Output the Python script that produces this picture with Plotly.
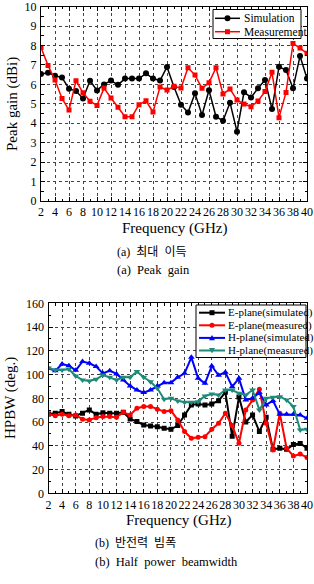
import plotly.graph_objects as go

W, H = 314, 584
freq = list(range(2, 41))

# Peak gain (dBi)
gain_sim = [6.53, 6.6, 6.45, 6.35, 5.78, 5.66, 5.28, 6.19, 5.69, 6.0, 6.2, 5.98, 6.3, 6.3, 6.3,
            6.57, 6.3, 6.2, 6.9, 5.87, 4.96, 4.55, 5.54, 4.43, 5.7, 4.34, 4.13, 5.06, 3.57, 5.6,
            5.33, 5.8, 6.23, 4.73, 6.91, 6.74, 5.8, 7.46, 6.3]
gain_meas = [7.9, 6.98, 6.23, 5.28, 4.68, 6.19, 5.57, 5.14, 4.92, 5.81, 5.3, 4.82, 4.34, 4.34, 4.96,
             5.16, 4.58, 5.87, 5.71, 5.9, 5.81, 6.86, 6.48, 5.8, 6.09, 6.86, 5.51, 5.76, 5.2, 4.99,
             4.85, 5.15, 5.63, 6.62, 4.29, 5.59, 8.11, 7.87, 7.6]

# HPBW (deg.)
e_sim = [66.8, 67.4, 68.8, 66.5, 65.1, 67.4, 70.2, 66.5, 67.9, 67.4, 67.4, 68.2, 62.6, 60.4, 57.5,
         56.7, 56.1, 54.7, 53.9, 57.0, 66.0, 74.4, 75.2, 74.4, 75.2, 78.0, 85.0, 48.0, 81.0, 60.0,
         66.0, 52.0, 64.0, 37.0, 38.0, 37.0, 41.0, 42.0, 38.0]
e_meas = [66.5, 65.4, 66.5, 65.4, 66.0, 62.3, 61.8, 63.7, 64.6, 64.6, 64.0, 68.2, 66.0, 71.6, 73.0,
          73.0, 70.7, 68.8, 69.6, 61.8, 52.0, 46.3, 47.2, 47.7, 53.9, 59.0, 67.4, 57.0, 42.1, 70.2,
          78.6, 87.6, 59.0, 36.5, 67.4, 37.9, 31.4, 33.1, 30.2]
h_sim = [105.0, 103.3, 108.9, 107.5, 103.6, 110.9, 109.5, 106.7, 101.0, 103.3, 100.5, 95.4, 90.4, 87.0, 84.8,
         87.0, 90.4, 93.2, 93.2, 97.7, 101.0, 114.5, 96.8, 92.6, 107.2, 99.4, 101.9, 89.8, 96.8, 78.6,
         80.0, 84.8, 74.4, 78.0, 66.5, 66.5, 66.5, 66.0, 63.2]
h_meas = [105.5, 103.9, 103.9, 104.4, 98.8, 95.4, 94.6, 96.0, 99.6, 97.7, 95.4, 97.7, 97.7, 102.5, 97.7,
          94.0, 88.4, 79.2, 80.0, 77.8, 76.6, 76.6, 77.2, 82.0, 83.6, 82.8, 87.0, 87.0, 84.2, 82.8,
          87.0, 70.2, 80.0, 80.8, 81.4, 78.6, 73.0, 53.3, 53.9]

x_ticks = list(range(2, 41, 2))

SERIF = "Liberation Serif, Times New Roman, serif"
KR = "Noto Sans CJK KR"

series1 = [
    ("Simulation", gain_sim, "black", "circle", 6, 1.5),
    ("Measurement", gain_meas, "#ff0000", "square", 5, 1.5),
]
series2 = [
    ("E-plane(simulated)", e_sim, "black", "square", 5, 2),
    ("E-plane(measured)", e_meas, "#ff0000", "circle", 5, 2),
    ("H-plane(simulated)", h_sim, "#0000ff", "triangle-up", 6, 2),
    ("H-plane(measured)", h_meas, "#1f8a78", "triangle-down", 6, 2),
]

fig = go.Figure()
for name, ys, col, sym, sz, lw in series1:
    fig.add_trace(go.Scatter(x=freq, y=ys, name=name, mode="lines+markers",
                             line=dict(color=col, width=lw),
                             marker=dict(symbol=sym, size=sz, color=col),
                             xaxis="x", yaxis="y", showlegend=False))
for name, ys, col, sym, sz, lw in series2:
    fig.add_trace(go.Scatter(x=freq, y=ys, name=name, mode="lines+markers",
                             line=dict(color=col, width=lw),
                             marker=dict(symbol=sym, size=sz, color=col),
                             xaxis="x2", yaxis="y2", showlegend=False))


def px_x(p):
    return p / W


def px_y(p):
    return 1 - p / H


axis_common = dict(
    showline=True, linecolor="black", linewidth=1, mirror="allticks",
    ticks="inside", ticklen=4, tickcolor="black",
    showgrid=True, gridcolor="#444444", griddash="dot", gridwidth=1,
    zeroline=False, tickfont=dict(family=SERIF, size=12, color="black"),
    ticklabeloverflow="allow",
)
minor_x = dict(dtick=1, ticks="inside", ticklen=2.5, tickcolor="black", showgrid=False)

fig.update_layout(
    width=W, height=H,
    margin=dict(l=0, r=0, t=0, b=0, autoexpand=False),
    paper_bgcolor="white", plot_bgcolor="white",
    showlegend=False,
    xaxis=dict(domain=[px_x(41), px_x(307)], range=[2, 40], tickvals=x_ticks, anchor="y",
               tickangle=0, minor=minor_x, ticklabelstandoff=0, **axis_common),
    yaxis=dict(domain=[px_y(201), px_y(6.7)], range=[0, 10], dtick=1, anchor="x",
               minor=dict(dtick=0.5, ticks="inside", ticklen=2.5, tickcolor="black", showgrid=False),
               ticklabelstandoff=1, **axis_common),
    xaxis2=dict(domain=[px_x(48.5), px_x(307)], range=[2, 40], tickvals=x_ticks, anchor="y2",
                tickangle=0, minor=minor_x, ticklabelstandoff=0, **axis_common),
    yaxis2=dict(domain=[px_y(493.3), px_y(303.3)], range=[0, 160], dtick=20, anchor="x2",
                minor=dict(dtick=10, ticks="inside", ticklen=2.5, tickcolor="black", showgrid=False),
                ticklabelstandoff=1, **axis_common),
)


# ---- custom compact legends (layout decoration, paper coordinates) ----
shapes = []
annos = []


def marker_shape(sym, cx, cy, size, col):
    r = size / 2.0
    if sym == "circle":
        return dict(type="circle", xref="paper", yref="paper",
                    x0=px_x(cx - r), x1=px_x(cx + r), y0=px_y(cy + r), y1=px_y(cy - r),
                    fillcolor=col, line=dict(color=col, width=0), layer="above")
    if sym == "square":
        return dict(type="rect", xref="paper", yref="paper",
                    x0=px_x(cx - r), x1=px_x(cx + r), y0=px_y(cy + r), y1=px_y(cy - r),
                    fillcolor=col, line=dict(color=col, width=0), layer="above")
    if sym == "triangle-up":
        pts = [(cx, cy - r), (cx + r, cy + r * 0.8), (cx - r, cy + r * 0.8)]
    else:
        pts = [(cx, cy + r), (cx + r, cy - r * 0.8), (cx - r, cy - r * 0.8)]
    path = "M " + " L ".join(f"{px_x(a):.5f},{px_y(b):.5f}" for a, b in pts) + " Z"
    return dict(type="path", xref="paper", yref="paper", path=path,
                fillcolor=col, line=dict(color=col, width=0), layer="above")


def add_legend(series, box, first_y, step, line_x0, line_x1, text_x, fsize):
    bx0, by0, bx1, by1 = box
    shapes.append(dict(type="rect", xref="paper", yref="paper",
                       x0=px_x(bx0), x1=px_x(bx1), y0=px_y(by1), y1=px_y(by0),
                       fillcolor="white", line=dict(color="black", width=1), layer="above"))
    for i, (name, _ys, col, sym, sz, lw) in enumerate(series):
        yy = first_y + i * step
        shapes.append(dict(type="line", xref="paper", yref="paper",
                           x0=px_x(line_x0), x1=px_x(line_x1), y0=px_y(yy), y1=px_y(yy),
                           line=dict(color=col, width=lw), layer="above"))
        shapes.append(marker_shape(sym, (line_x0 + line_x1) / 2, yy, sz, col))
        annos.append(dict(text=name, x=px_x(text_x), y=px_y(yy), xanchor="left",
                          yanchor="middle", font=dict(family=SERIF, size=fsize)))


add_legend(series1, (213, 9.5, 301, 38.5), 18.3, 13.4, 215, 240, 242, 11.5)
add_legend(series2, (196, 305, 306, 357.5), 312.7, 12.6, 199, 225, 226, 11)

annos += [
    dict(text="Peak gain (dBi)", x=px_x(12), y=px_y(104), textangle=-90,
         font=dict(family=SERIF, size=15)),
    dict(text="Frequency (GHz)", x=px_x(174), y=px_y(229),
         font=dict(family=SERIF, size=15)),
    dict(text="(a)  최대  이득", x=px_x(115), y=px_y(252), xanchor="left",
         font=dict(family=SERIF + ", " + KR, size=12)),
    dict(text="(a)  Peak  gain", x=px_x(115), y=px_y(270), xanchor="left",
         font=dict(family=SERIF, size=12.5)),
    dict(text="HPBW (deg.)", x=px_x(11), y=px_y(398), textangle=-90,
         font=dict(family=SERIF, size=15)),
    dict(text="Frequency (GHz)", x=px_x(178), y=px_y(520),
         font=dict(family=SERIF, size=15)),
    dict(text="(b)  반전력  빔폭", x=px_x(93), y=px_y(543), xanchor="left",
         font=dict(family=SERIF + ", " + KR, size=12)),
    dict(text="(b)  Half  power  beamwidth", x=px_x(93), y=px_y(562), xanchor="left",
         font=dict(family=SERIF, size=12.5)),
]
for a in annos:
    a.setdefault("xref", "paper")
    a.setdefault("yref", "paper")
    a.setdefault("showarrow", False)
    a.setdefault("xanchor", "center")
    a.setdefault("yanchor", "middle")
    a["font"].setdefault("color", "black")

fig.update_layout(shapes=shapes, annotations=annos)
fig.write_html("out.html")
